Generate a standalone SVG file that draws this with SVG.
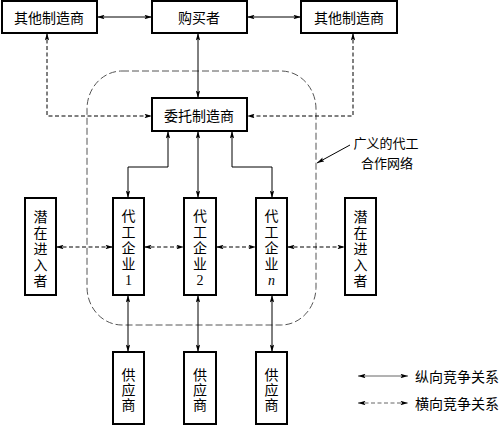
<svg xmlns="http://www.w3.org/2000/svg" width="503" height="425" viewBox="0 0 503 425">
<defs>
<marker id="ah" viewBox="0 0 10 6" refX="10" refY="3" markerWidth="8" markerHeight="4.5" markerUnits="userSpaceOnUse" orient="auto-start-reverse">
<path d="M0,0 L10,3 L0,6 L2,3 z" fill="#000"/>
</marker>
<style>
.box{fill:#fff;stroke:#000;stroke-width:2}
.t{font-family:"Noto Sans CJK SC",sans-serif;font-size:14px;fill:#000;text-anchor:middle;dominant-baseline:central}
.v{font-family:"Noto Sans CJK SC",sans-serif;font-size:14px;fill:#000;writing-mode:vertical-rl;text-orientation:upright;letter-spacing:2px;text-anchor:start}
.n{font-family:"Liberation Serif",serif}
.s{fill:none;stroke:#000;stroke-width:1;marker-start:url(#ah);marker-end:url(#ah)}
.d{fill:none;stroke:#000;stroke-width:1;stroke-dasharray:4,2.5;marker-start:url(#ah);marker-end:url(#ah)}
.net{fill:none;stroke:#555;stroke-width:1;stroke-dasharray:7,3}
.lbl{font-family:"Noto Sans CJK SC",sans-serif;font-size:13px;fill:#000;text-anchor:middle;dominant-baseline:central}
</style>
</defs>
<rect class="net" x="87" y="71" width="229" height="254" rx="35" ry="38"/>
<g id="connectors">
<line class="s" x1="97" y1="17" x2="152" y2="17"/>
<line class="s" x1="247" y1="17" x2="301" y2="17"/>
<line class="s" x1="198" y1="33" x2="198" y2="98"/>
<polyline class="d" points="47,33 47,116 152,116"/>
<polyline class="d" points="353,33 353,116 247,116"/>
<polyline class="s" points="168,131 168,167 128,167 128,198"/>
<line class="s" x1="198" y1="131" x2="198" y2="198"/>
<polyline class="s" points="232,131 232,167 272,167 272,198"/>
<line class="d" x1="56" y1="247" x2="113" y2="247"/>
<line class="d" x1="144" y1="247" x2="184" y2="247"/>
<line class="d" x1="216" y1="247" x2="256" y2="247"/>
<line class="d" x1="287" y1="247" x2="345" y2="247"/>
<line class="s" x1="128" y1="295" x2="128" y2="352"/>
<line class="s" x1="198" y1="295" x2="198" y2="352"/>
<line class="s" x1="272" y1="295" x2="272" y2="352"/>
<line x1="350" y1="145" x2="317" y2="163" stroke="#000" stroke-width="1" marker-end="url(#ah)"/>
</g>
<g id="other-left"><rect class="box" x="2" y="1" width="95" height="32"/><text class="t" x="49" y="17">其他制造商</text></g>
<g id="buyer"><rect class="box" x="152" y="1" width="95" height="32"/><text class="t" x="199" y="17">购买者</text></g>
<g id="other-right"><rect class="box" x="301" y="1" width="96" height="32"/><text class="t" x="349" y="17">其他制造商</text></g>
<g id="client"><rect class="box" x="152" y="98" width="95" height="33"/><text class="t" x="199" y="115">委托制造商</text></g>
<g id="entrant-left"><rect class="box" x="25" y="198" width="31" height="97"/>
<text class="v" x="40.5" y="210">潜在进入者</text></g>
<g id="oem1"><rect class="box" x="113" y="198" width="31" height="97"/>
<text class="v" x="128.5" y="209">代工企业<tspan class="n">1</tspan></text></g>
<g id="oem2"><rect class="box" x="184" y="198" width="32" height="97"/>
<text class="v" x="200" y="209">代工企业<tspan class="n">2</tspan></text></g>
<g id="oemn"><rect class="box" x="256" y="198" width="31" height="97"/>
<text class="v" x="271.5" y="209">代工企业<tspan class="n" font-style="italic">n</tspan></text></g>
<g id="entrant-right"><rect class="box" x="345" y="198" width="31" height="97"/>
<text class="v" x="360.5" y="210">潜在进入者</text></g>
<g id="sup1"><rect class="box" x="113" y="352" width="31" height="72"/>
<text class="v" x="128.5" y="368" style="letter-spacing:1px">供应商</text></g>
<g id="sup2"><rect class="box" x="184" y="352" width="32" height="72"/>
<text class="v" x="200" y="368" style="letter-spacing:1px">供应商</text></g>
<g id="sup3"><rect class="box" x="256" y="352" width="31" height="72"/>
<text class="v" x="271.5" y="368" style="letter-spacing:1px">供应商</text></g>
<g id="network-label"><text class="lbl" x="386" y="142">广义的代工</text><text class="lbl" x="387" y="162">合作网络</text></g>
<g id="legend">
<line x1="358" y1="376" x2="408" y2="376" stroke="#666" stroke-width="1" marker-start="url(#ah)" marker-end="url(#ah)"/>
<line x1="358" y1="403" x2="408" y2="403" stroke="#666" stroke-width="1" stroke-dasharray="4,2.5" marker-start="url(#ah)" marker-end="url(#ah)"/>
<text class="lbl" x="415" y="376" style="text-anchor:start;font-size:14px">纵向竞争关系</text>
<text class="lbl" x="415" y="403" style="text-anchor:start;font-size:14px">横向竞争关系</text>
</g>
</svg>
